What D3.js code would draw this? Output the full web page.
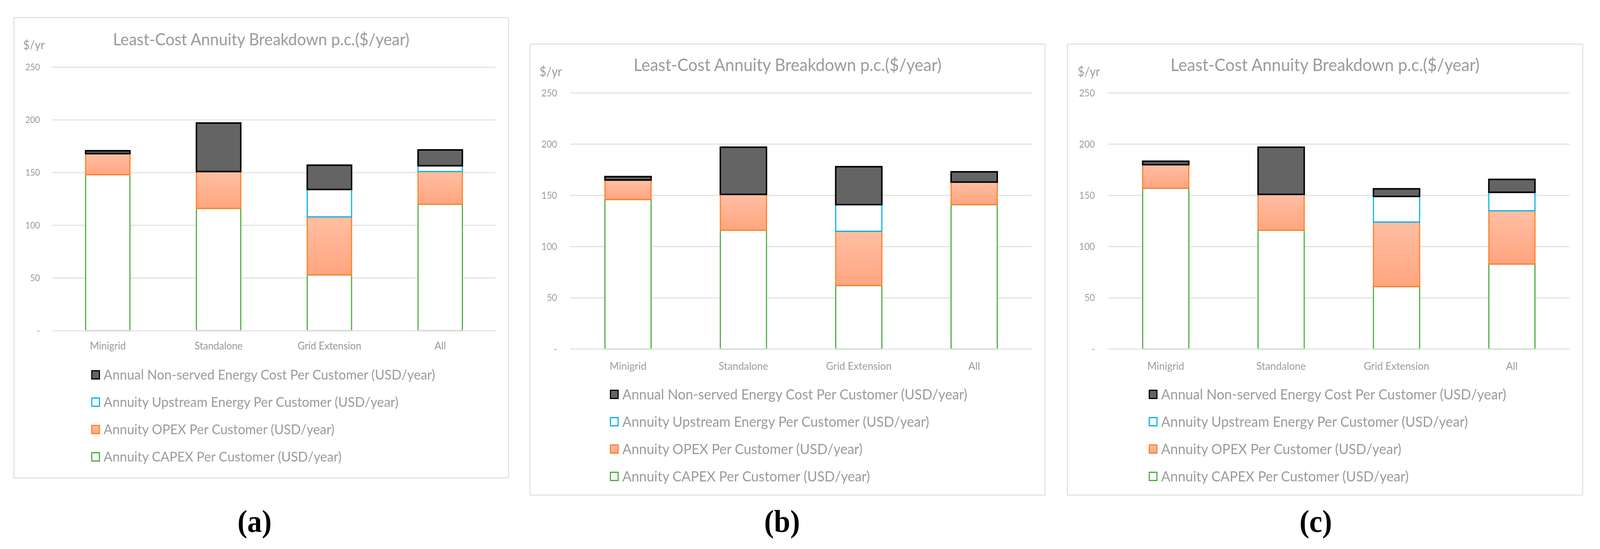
<!DOCTYPE html>
<html>
<head>
<meta charset="UTF-8">
<title>Least-Cost Annuity Breakdown</title>
<style>
  * {padding:0; margin:0;}
  html, body {width:100%; height:100%; overflow:hidden; background:#fff;}
  #chart {position:fixed; left:0; top:0; width:100vw; height:100vh; display:block;}
  svg text {font-family: Lato, "Open Sans", sans-serif; fill:#9b9b9b;}
  .panelTag {font-family: "Liberation Serif", "DejaVu Serif", serif; font-weight:bold; fill:#000;}
</style>
</head>
<body>
<script src="https://cdnjs.cloudflare.com/ajax/libs/d3/7.8.5/d3.min.js"></script>
<svg id="chart" viewBox="0 0 4368 1406" preserveAspectRatio="none"></svg>
<script>
// categories and tick labels
var categories = ["Minigrid", "Standalone", "Grid Extension", "All"];
var yTicks = [0, 50, 100, 150, 200, 250];
var yTickLabels = ["-", "50", "100", "150", "200", "250"];
var seriesNames = [
  "Annuity CAPEX Per Customer (USD/year)",
  "Annuity OPEX Per Customer (USD/year)",
  "Annuity Upstream Energy Per Customer (USD/year)",
  "Annual Non-served Energy Cost Per Customer (USD/year)"
];

// (a)
var capexA = [148, 116, 53, 120];
var opexA = [20, 35, 55, 31];
var upstreamA = [0, 0, 26, 5.5];
var nonServedA = [2.7, 46, 23, 15];
// (b)
var capexB = [146, 116, 62, 141];
var opexB = [19, 35, 53, 22];
var upstreamB = [0, 0, 26, 0];
var nonServedB = [3.3, 46, 37, 10];
// (c)
var capexC = [157, 116, 61, 83];
var opexC = [23, 35, 63, 52];
var upstreamC = [0, 0, 25, 18];
var nonServedC = [3.3, 46, 7.4, 12.6];

var svg = d3.select("#chart");
var FONT = "Lato";

// gradient for OPEX fill
var defs = svg.append("defs");
var grad = defs.append("linearGradient").attr("id", "opexGrad")
  .attr("x1", 0).attr("y1", 0).attr("x2", 0).attr("y2", 1);
grad.append("stop").attr("offset", "0%").attr("stop-color", "#ffbfa3");
grad.append("stop").attr("offset", "100%").attr("stop-color", "#ffa57f");

// series styles, bottom to top
var styles = [
  {fill: "#ffffff", stroke: "#46ab3a", sw: 3},
  {fill: "url(#opexGrad)", stroke: "#ff7f27", sw: 3},
  {fill: "#ffffff", stroke: "#00b0f0", sw: 3},
  {fill: "#646464", stroke: "#000000", sw: 4}
];

// font size that makes str about target px wide
function fitSize(str, target, family) {
  var t = svg.append("text").style("font-family", family || FONT).style("font-size", "100px").text(str);
  var w = t.node().getComputedTextLength();
  t.remove();
  return 100 * target / w;
}

var panels = [
  {tag: "(a)", series: [capexA, opexA, upstreamA, nonServedA],
   box: [38, 45, 1388, 1224], plotX: [143, 1353], y0: 847, y250: 172,
   titleY: 116, titleW: 809, unit: [63, 126], unitW: 59, tickX: 109, tickW: 40,
   catY: 895, catW: 174, legX: 249, legY: 960, legW: 905, tagX: 695},
  {tag: "(b)", series: [capexB, opexB, upstreamB, nonServedB],
   box: [1447, 113, 2853, 1268], plotX: [1557, 2817], y0: 894, y250: 238,
   titleY: 182, titleW: 841, unit: [1473, 195], unitW: 61, tickX: 1521, tickW: 43,
   catY: 947, catW: 179, legX: 1665, legY: 1010, legW: 942, tagX: 2135},
  {tag: "(c)", series: [capexC, opexC, upstreamC, nonServedC],
   box: [2914, 113, 4321, 1268], plotX: [3025, 4285], y0: 894, y250: 238,
   titleY: 182, titleW: 844, unit: [2942, 195], unitW: 61, tickX: 2989, tickW: 43,
   catY: 947, catW: 179, legX: 3136, legY: 1010, legW: 942, tagX: 3592}
];

panels.forEach(function(p) {
  var g = svg.append("g");

  // chart area border
  g.append("rect")
    .attr("x", p.box[0]).attr("y", p.box[1])
    .attr("width", p.box[2] - p.box[0]).attr("height", p.box[3] - p.box[1])
    .attr("fill", "#fff").attr("stroke", "#e3e3e3").attr("stroke-width", 3);

  var x = d3.scaleBand().domain(categories).range(p.plotX)
    .paddingInner(0.6).paddingOuter(0.3);
  var y = d3.scaleLinear().domain([0, 250]).range([p.y0, p.y250]);

  // gridlines
  g.selectAll(".grid").data(yTicks.filter(function(d) { return d > 0; })).enter()
    .append("line")
    .attr("x1", p.plotX[0]).attr("x2", p.plotX[1])
    .attr("y1", function(d) { return y(d); }).attr("y2", function(d) { return y(d); })
    .attr("stroke", "#e3e3e3").attr("stroke-width", 3);

  // y tick labels
  var tickSize = fitSize("250", p.tickW);
  g.selectAll(".tick").data(yTicks).enter()
    .append("text")
    .attr("x", p.tickX).attr("y", function(d) { return y(d); })
    .attr("dy", "0.35em").attr("text-anchor", "end")
    .style("font-size", tickSize + "px")
    .text(function(d, i) { return yTickLabels[i]; });

  // stacked bars
  var rows = categories.map(function(c, i) {
    var o = {cat: c};
    p.series.forEach(function(s, k) { o["s" + k] = s[i]; });
    return o;
  });
  var stack = d3.stack().keys(["s0", "s1", "s2", "s3"])(rows);
  stack.forEach(function(layer, k) {
    g.selectAll(".bar" + k).data(layer.filter(function(d) { return d[1] - d[0] > 0; })).enter()
      .append("rect")
      .attr("x", function(d) { return x(d.data.cat); })
      .attr("width", x.bandwidth())
      .attr("y", function(d) { return y(d[1]); })
      .attr("height", function(d) { return y(d[0]) - y(d[1]); })
      .attr("fill", styles[k].fill)
      .attr("stroke", styles[k].stroke)
      .attr("stroke-width", styles[k].sw);
  });

  // baseline drawn over the bars
  g.append("line")
    .attr("x1", p.plotX[0]).attr("x2", p.plotX[1])
    .attr("y1", y(0)).attr("y2", y(0))
    .attr("stroke", "#e3e3e3").attr("stroke-width", 3);

  // category labels
  var catSize = fitSize("Grid Extension", p.catW);
  g.selectAll(".cat").data(categories).enter()
    .append("text")
    .attr("x", function(d) { return x(d) + x.bandwidth() / 2; })
    .attr("y", p.catY).attr("text-anchor", "middle")
    .style("font-size", catSize + "px")
    .text(function(d) { return d; });

  // title
  var title = "Least-Cost Annuity Breakdown p.c.($/year)";
  g.append("text")
    .attr("x", (p.box[0] + p.box[2]) / 2).attr("y", p.titleY)
    .attr("text-anchor", "middle")
    .style("font-size", fitSize(title, p.titleW) + "px")
    .text(title);

  // unit label
  g.append("text")
    .attr("x", p.unit[0]).attr("y", p.unit[1])
    .style("font-size", fitSize("$/yr", p.unitW) + "px")
    .text("$/yr");

  // legend, top entry is the top series
  var legSize = fitSize(seriesNames[3], p.legW);
  var order = [3, 2, 1, 0];
  var leg = g.selectAll(".leg").data(order).enter().append("g")
    .attr("transform", function(d, i) { return "translate(" + p.legX + "," + (p.legY + i * 70) + ")"; });
  leg.append("rect")
    .attr("x", 1.5).attr("y", -10.5).attr("width", 21).attr("height", 21)
    .attr("fill", function(d) { return styles[d].fill; })
    .attr("stroke", function(d) { return styles[d].stroke; })
    .attr("stroke-width", 3);
  leg.append("text")
    .attr("x", 34).attr("y", 0).attr("dy", "0.35em")
    .style("font-size", legSize + "px")
    .text(function(d) { return seriesNames[d]; });

  // panel tag
  svg.append("text").attr("class", "panelTag")
    .attr("x", p.tagX).attr("y", 1362).attr("text-anchor", "middle")
    .style("font-size", "80px")
    .text(p.tag);
});
</script>
</body>
</html>
